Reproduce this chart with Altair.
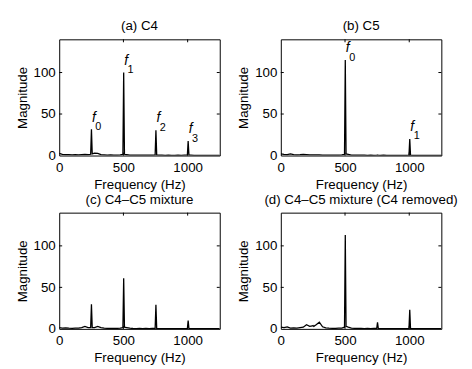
import altair as alt
import pandas as pd

# Shared frequency grid (Hz); peak bins near 251, 502, 753, 1004 Hz
freq = [0, 25, 50, 75, 100, 125, 150, 175, 200, 225,
        245, 251, 257,
        275, 300, 325, 350, 375, 400, 425, 450, 475,
        496, 502, 508,
        525, 550, 575, 600, 625, 650, 675, 700, 725,
        747, 753, 759,
        775, 800, 825, 850, 875, 900, 925, 950, 975,
        998, 1004, 1010,
        1025, 1050, 1075, 1100, 1125, 1150, 1175, 1200, 1225, 1250]

mag_a = [2.5, 1.5, 1.0, 1.2, 0.8, 1.0, 0.7, 1.2, 1.5, 1.0,
         1.5, 31.5, 2.0,
         3.0, 2.5, 1.0, 0.8, 0.6, 0.7, 0.5, 0.6, 0.8,
         1.5, 100.0, 1.5,
         1.2, 0.6, 0.5, 0.4, 0.5, 0.4, 0.5, 0.4, 0.5,
         0.8, 30.5, 0.8,
         0.5, 0.4, 0.3, 0.4, 0.3, 0.3, 0.4, 0.3, 0.4,
         0.5, 17.5, 0.5,
         0.4, 0.3, 0.3, 0.2, 0.3, 0.2, 0.2, 0.2, 0.2, 0.2]

mag_b = [2.0, 1.5, 1.2, 2.0, 1.0, 0.8, 1.0, 1.5, 1.2, 0.8,
         0.8, 0.9, 0.8,
         0.7, 0.8, 0.6, 0.5, 0.6, 0.5, 0.6, 0.5, 0.7,
         1.5, 115.0, 2.0,
         1.5, 0.6, 0.4, 0.5, 0.4, 0.4, 0.3, 0.4, 0.3,
         0.4, 0.5, 0.4,
         0.3, 0.4, 0.3, 0.3, 0.2, 0.3, 0.2, 0.3, 0.3,
         0.4, 20.0, 0.4,
         0.3, 0.2, 0.2, 0.2, 0.2, 0.2, 0.2, 0.2, 0.2, 0.2]

mag_c = [1.5, 1.0, 1.2, 0.8, 0.7, 0.9, 1.0, 1.5, 3.0, 1.5,
         1.5, 29.5, 1.5,
         1.5, 3.0, 1.5, 0.8, 0.6, 0.7, 0.5, 0.6, 0.8,
         1.5, 61.0, 2.0,
         1.5, 0.8, 0.5, 0.4, 0.5, 0.4, 0.5, 0.4, 0.5,
         0.6, 29.0, 0.6,
         0.4, 0.3, 0.4, 0.3, 0.3, 0.3, 0.4, 0.3, 0.3,
         0.3, 10.0, 0.3,
         0.3, 0.2, 0.3, 0.2, 0.2, 0.2, 0.2, 0.2, 0.2, 0.2]

mag_d = [2.0, 1.5, 2.5, 1.0, 1.2, 1.0, 1.5, 2.0, 5.0, 3.0,
         3.5, 4.0, 3.0,
         5.0, 8.0, 2.5, 1.2, 0.8, 0.7, 0.6, 0.8, 1.0,
         2.0, 113.0, 3.0,
         2.0, 1.0, 0.6, 0.5, 0.5, 0.4, 0.5, 0.4, 0.5,
         0.6, 8.0, 0.6,
         0.4, 0.3, 0.4, 0.3, 0.3, 0.3, 0.3, 0.3, 0.3,
         0.4, 23.0, 0.4,
         0.3, 0.2, 0.2, 0.2, 0.2, 0.2, 0.2, 0.2, 0.2, 0.2]

# Harmonic annotations
ann_a_freq = [251, 502, 753, 1004]
ann_a_mag = [31.5, 100.0, 30.5, 17.5]
ann_a_sub = ["0", "1", "2", "3"]
ann_b_freq = [502, 1004]
ann_b_mag = [115.0, 20.0]
ann_b_sub = ["0", "1"]

titles = ["(a) C4", "(b) C5", "(c) C4\u2013C5 mixture", "(d) C4\u2013C5 mixture (C4 removed)"]
x_ticks = [0, 500, 1000]
y_ticks = [0, 50, 100]

W, H = 163, 118
FONT = "Liberation Sans"
FS = 13.5


def panel(mags, title, af=None, am=None, asub=None):
    df = pd.DataFrame({"freq": freq, "mag": mags})
    xs = alt.Scale(domain=[0, 1250], nice=False, zero=False)
    ys = alt.Scale(domain=[0, 140], nice=False)
    line = alt.Chart(df).mark_line(color="black", strokeWidth=1.3, clip=True).encode(
        x=alt.X("freq:Q", scale=xs, axis=alt.Axis(values=x_ticks, format="d", title="Frequency (Hz)")),
        y=alt.Y("mag:Q", scale=ys, axis=alt.Axis(values=y_ticks, format="d", title="Magnitude")),
    )
    xt = pd.DataFrame({"freq": x_ticks[1:]})
    yt = pd.DataFrame({"mag": y_ticks[1:]})
    tb = alt.Chart(xt).mark_rule(color="black", strokeWidth=1).encode(
        x="freq:Q", y=alt.value(H), y2=alt.value(H - 3))
    tt = alt.Chart(xt).mark_rule(color="black", strokeWidth=1).encode(
        x="freq:Q", y=alt.value(0), y2=alt.value(3))
    tl = alt.Chart(yt).mark_rule(color="black", strokeWidth=1).encode(
        y="mag:Q", x=alt.value(0), x2=alt.value(3))
    tr = alt.Chart(yt).mark_rule(color="black", strokeWidth=1).encode(
        y="mag:Q", x=alt.value(W - 3), x2=alt.value(W))
    layers = [line, tb, tt, tl, tr]
    if af is not None:
        adf = pd.DataFrame({"freq": af, "mag": am, "sub": asub})
        fm = alt.Chart(adf).mark_text(text="f", font=FONT, fontStyle="italic", fontSize=14,
                                      dx=2.5, dy=-12, color="black").encode(x="freq:Q", y="mag:Q")
        sm = alt.Chart(adf).mark_text(font=FONT, fontSize=11, dx=7, dy=-2.5,
                                      color="black").encode(x="freq:Q", y="mag:Q", text="sub:N")
        layers += [fm, sm]
    return alt.layer(*layers).properties(
        width=W, height=H,
        title=alt.TitleParams(title, fontSize=FS, fontWeight="normal", font=FONT, offset=6, color="black"),
    )


pa = panel(mag_a, titles[0], ann_a_freq, ann_a_mag, ann_a_sub)
pb = panel(mag_b, titles[1], ann_b_freq, ann_b_mag, ann_b_sub)
pc = panel(mag_c, titles[2])
pd_ = panel(mag_d, titles[3])

row1 = alt.hconcat(pa, pb, spacing=15)
row2 = alt.hconcat(pc, pd_, spacing=15)
chart = alt.vconcat(row1, row2, spacing=0).properties(
    padding={"top": 8, "left": 6, "right": 5, "bottom": 5}
).configure_view(
    stroke="black", strokeWidth=1
).configure_axis(
    domain=False, ticks=False, grid=False, labelFlush=False,
    labelFont=FONT, titleFont=FONT, labelFontSize=FS, titleFontSize=FS,
    titleFontWeight="normal", labelColor="black", titleColor="black",
).configure_axisX(labelPadding=5, titlePadding=4).configure_axisY(labelPadding=4, titlePadding=4)

chart.save("out.html", embed_options={"renderer": "svg", "actions": False})
